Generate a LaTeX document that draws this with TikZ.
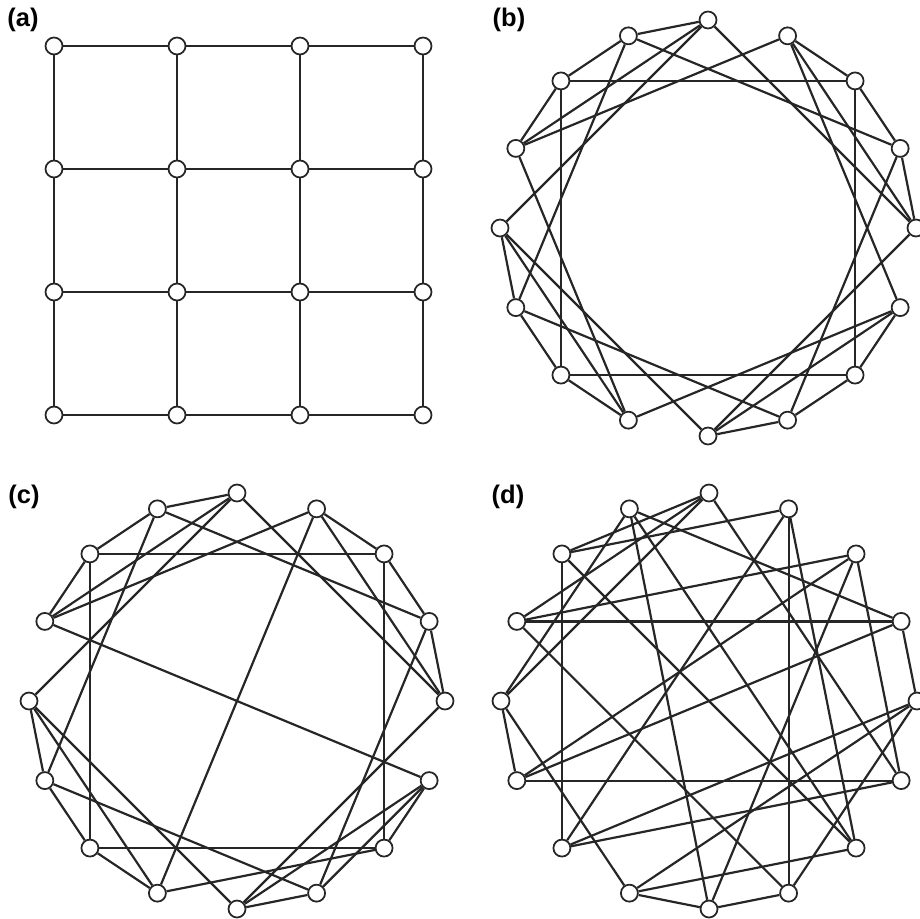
\documentclass[tikz,border=0pt]{standalone}
\usepackage{fontspec}
\setmainfont{Liberation Sans}
\usetikzlibrary{calc}

\begin{document}
\begin{tikzpicture}[
    x=0.02cm, y=-0.02cm,
    vtx/.style={circle,draw=black!85,fill=white,line width=1pt,inner sep=0pt,minimum size=0.34cm},
    link/.style={draw=black!85,line width=1.25pt},
    lab/.style={font=\fontsize{14.5}{16}\selectfont\bfseries,inner sep=0pt}
  ]
  \useasboundingbox (0,0) rectangle (920,919);

  % (a) lattice
  \node[lab] (la) at (23,20) {(a)};
  \foreach \i in {0,...,3}
    \foreach \j in {0,...,3}
      \node[vtx] (a\i\j) at (54+123*\i,46+123*\j) {};
  \foreach \i/\n in {0/1,1/2,2/3}
    \foreach \j in {0,...,3} {
      \draw[link] (a\i\j) -- (a\n\j);
      \draw[link] (a\j\i) -- (a\j\n);
    }

  % (b) ring layout
  \node[lab] (lb) at (509,20) {(b)};
  \foreach \k in {0,...,15}
    \node[vtx] (b\k) at ($(708,228)+({-90+22.5*\k}:208)$) {};
  \foreach \u/\v in {1/2,2/3,3/4,4/1,5/6,6/7,7/8,8/5,9/10,10/11,11/12,12/9,
                     13/14,14/15,15/0,0/13,0/4,4/8,8/12,12/0,1/5,5/9,9/13,13/1,
                     2/6,6/10,10/14,14/2,3/7,7/11,11/15,15/3}
    \draw[link] (b\u) -- (b\v);

  % (c) a few rewired
  \node[lab] (lc) at (24,497) {(c)};
  \foreach \k in {0,...,15}
    \node[vtx] (c\k) at ($(237,701)+({-90+22.5*\k}:208)$) {};
  \foreach \u/\v in {1/2,2/3,3/4,4/1,5/6,6/9,7/8,8/5,9/10,10/11,11/12,12/9,
                     13/14,14/15,15/0,0/13,0/4,4/8,8/12,12/0,1/9,5/7,13/5,13/1,
                     2/6,6/10,10/14,14/2,3/7,7/11,11/15,15/3}
    \draw[link] (c\u) -- (c\v);

  % (d) fully rewired
  \node[lab] (ld) at (508,497) {(d)};
  \foreach \k in {0,...,15}
    \node[vtx] (d\k) at ($(709,701)+({-90+22.5*\k}:208)$) {};
  \foreach \u/\v in {0/14,0/12,0/5,0/13,1/14,1/7,1/10,1/6,2/13,2/11,2/8,2/5,
                     3/13,3/15,3/4,3/11,4/10,4/9,4/7,5/11,5/10,6/14,6/15,6/9,
                     7/8,7/13,8/9,8/15,9/12,10/14,11/12,12/15}
    \draw[link] (d\u) -- (d\v);
\end{tikzpicture}
\end{document}
